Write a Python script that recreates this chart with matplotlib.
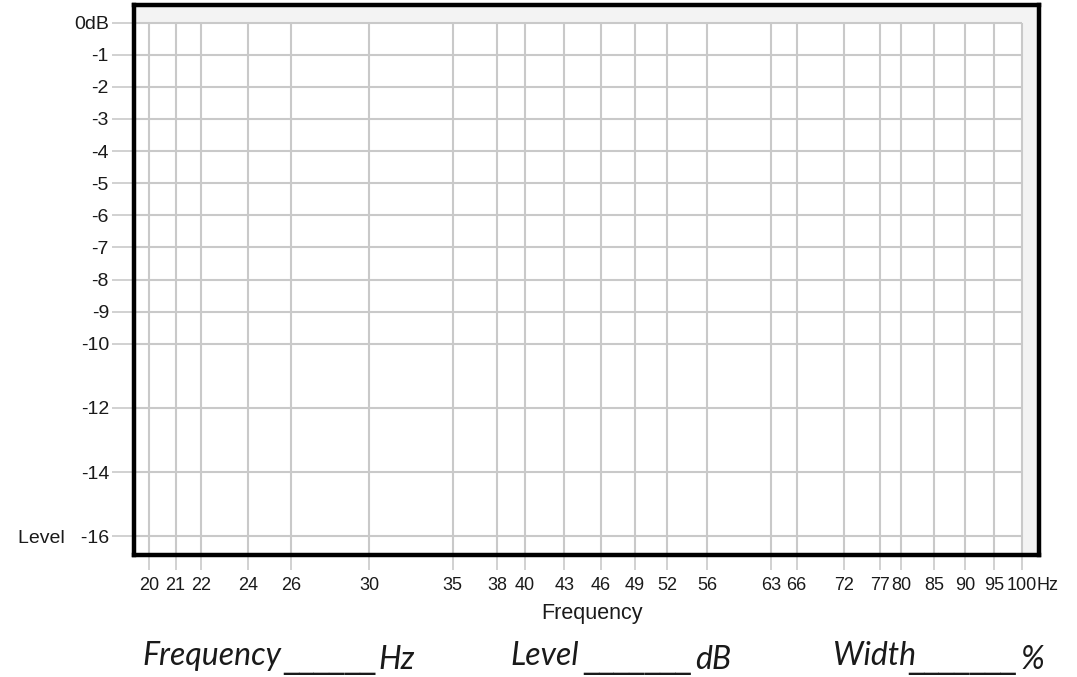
import matplotlib
matplotlib.use('Agg')
import matplotlib.pyplot as plt
from matplotlib.patches import Rectangle
from matplotlib.ticker import NullLocator

# ---- data (axis ticks of the blank response chart) ----
freq_ticks = [20, 21, 22, 24, 26, 30, 35, 38, 40, 43, 46, 49, 52, 56,
              63, 66, 72, 77, 80, 85, 90, 95, 100]
freq_labels = [str(f) for f in freq_ticks]
level_ticks = [0, -1, -2, -3, -4, -5, -6, -7, -8, -9, -10, -12, -14, -16]
level_labels = ['0dB', '-1', '-2', '-3', '-4', '-5', '-6', '-7', '-8', '-9',
                '-10', '-12', '-14', 'Level   -16']
x_label = 'Frequency'
form_fields = [('Frequency', 'Hz'), ('Level', 'dB'), ('Width', '%')]
form_blanks = ['______', '_______', '_______']

x_range = (19.45, 103.2)
y_range = (-16.58, 0.55)

plt.rcParams['font.family'] = ['Liberation Sans', 'DejaVu Sans']

W, H = 1077, 677
fig = plt.figure(figsize=(W / 100, H / 100), dpi=100)
fig.patch.set_facecolor('white')
ax = fig.add_axes([134 / W, 1 - 555 / H, 905 / W, 550 / H])
ax.set_xscale('log')
ax.set_xlim(*x_range)
ax.set_ylim(*y_range)
ax.set_facecolor('#f3f3f3')
ax.add_patch(Rectangle((x_range[0], y_range[0]), freq_ticks[-1] - x_range[0],
                       level_ticks[0] - y_range[0], facecolor='white',
                       edgecolor='none', zorder=0))

grid_c = '#c9c9c9'
ax.vlines(freq_ticks, y_range[0], level_ticks[0], colors=grid_c, lw=1.5, zorder=1)
ax.hlines(level_ticks, x_range[0], freq_ticks[-1], colors=grid_c, lw=1.5, zorder=1)

ax.set_xticks(freq_ticks)
ax.set_xticklabels(freq_labels)
ax.xaxis.set_minor_locator(NullLocator())
ax.set_yticks(level_ticks)
ax.set_yticklabels(level_labels)

ax.tick_params(axis='x', direction='out', length=11, width=1.2, color=grid_c,
               pad=5, labelsize=13, labelcolor='#1a1a1a')
ax.tick_params(axis='y', direction='out', length=16, width=1.2, color=grid_c,
               pad=2, labelsize=14, labelcolor='#1a1a1a')
for s in ax.spines.values():
    s.set_linewidth(3.2)
    s.set_color('black')
    s.set_zorder(5)

# "Hz" after the last tick label
ax.annotate('Hz', xy=(freq_ticks[-1], 0), xycoords=('data', 'axes fraction'),
            xytext=(10.8, -16), textcoords='offset points', ha='left', va='top',
            fontsize=13, color='#1a1a1a')

fig.text(592 / W, 1 - 619 / H, x_label, ha='center', va='baseline',
         fontsize=15.5, color='#1a1a1a')

# form fields at the bottom
ffont = dict(family=['Lato', 'DejaVu Sans'], style='italic', weight='normal',
             fontsize=23, color='#1a1a1a')
bfont = dict(family='DejaVu Sans', fontsize=22, color='#1a1a1a')
base = 1 - 665 / H
unit_base = 1 - 669 / H
positions = [(142, 283, 378), (510, 583, 695), (833, 908, 1020)]
for (name, unit), blank, (xn, xu, xunit) in zip(form_fields, form_blanks, positions):
    fig.text(xn / W, base, name, ha='left', va='baseline', **ffont)
    fig.text(xu / W, unit_base + 0.002, blank, ha='left', va='baseline', **bfont)
    fig.text(xunit / W, unit_base, unit, ha='left', va='baseline', **ffont)

fig.savefig('out.png', dpi=100, facecolor='white')
